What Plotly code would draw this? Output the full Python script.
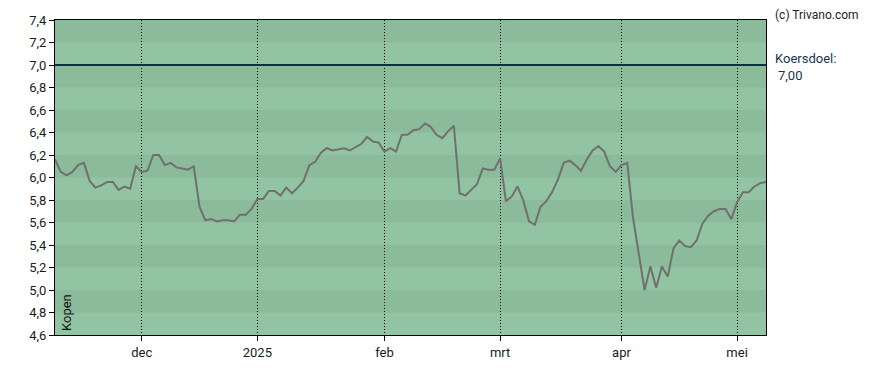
import pandas as pd
import plotly.graph_objects as go

# ---- data ----
holidays = ["2024-12-25", "2024-12-26", "2025-01-01", "2025-04-18", "2025-04-21", "2025-05-01"]
dates = [d for d in pd.bdate_range("2024-11-11", "2025-05-09") if d.strftime("%Y-%m-%d") not in holidays]

prices = [
    6.16, 6.05, 6.02, 6.05, 6.11, 6.13, 5.97, 5.91, 5.93, 5.96,
    5.96, 5.89, 5.92, 5.90, 6.10, 6.05, 6.06, 6.20, 6.20, 6.11,
    6.13, 6.09, 6.08, 6.07, 6.10, 5.74, 5.62, 5.63, 5.61, 5.62,
    5.62, 5.61, 5.67, 5.67, 5.72, 5.81, 5.81, 5.88, 5.88, 5.84,
    5.91, 5.86, 5.91, 5.97, 6.11, 6.14, 6.22, 6.26, 6.24, 6.25,
    6.26, 6.24, 6.27, 6.30, 6.36, 6.32, 6.31, 6.23, 6.26, 6.23,
    6.38, 6.38, 6.42, 6.43, 6.48, 6.45, 6.38, 6.35, 6.41, 6.46,
    5.86, 5.84, 5.89, 5.94, 6.08, 6.07, 6.07, 6.17, 5.79, 5.83,
    5.92, 5.80, 5.61, 5.58, 5.74, 5.79, 5.87, 5.98, 6.13, 6.15,
    6.11, 6.06, 6.16, 6.24, 6.28, 6.23, 6.10, 6.05, 6.11, 6.13,
    5.64, 5.31, 5.00, 5.21, 5.02, 5.21, 5.12, 5.37, 5.44, 5.39,
    5.38, 5.44, 5.59, 5.66, 5.70, 5.72, 5.72, 5.63, 5.78, 5.87,
    5.87, 5.92, 5.95, 5.96,
]
n = min(len(dates), len(prices))
dates = dates[:n]
prices = prices[:n]

target = 7.00
y_ticks = [4.6, 4.8, 5.0, 5.2, 5.4, 5.6, 5.8, 6.0, 6.2, 6.4, 6.6, 6.8, 7.0, 7.2, 7.4]
month_names = {1: "2025", 2: "feb", 3: "mrt", 4: "apr", 5: "mei", 12: "dec"}

# month tick positions = first trading day of each month (excluding the starting month)
xs = list(range(n))
tickvals, ticktext = [], []
for i in range(1, n):
    if dates[i].month != dates[i - 1].month:
        tickvals.append(i)
        ticktext.append(month_names.get(dates[i].month, dates[i].strftime("%b").lower()))

DARK = "#8BBB9B"
LIGHT = "#92C3A2"

fig = go.Figure()

fig.add_trace(go.Scatter(
    x=xs, y=prices, mode="lines",
    line=dict(color="#707070", width=2),
    hoverinfo="skip", showlegend=False,
))

shapes = []
# alternating bands
for k in range(len(y_ticks) - 1):
    lo, hi = y_ticks[k], y_ticks[k + 1]
    if k % 2 == 0:
        continue
    shapes.append(dict(type="rect", xref="paper", yref="y", x0=0, x1=1, y0=lo, y1=hi,
                       fillcolor=DARK, line=dict(width=0), layer="below"))
# target line
shapes.append(dict(type="line", xref="paper", yref="y", x0=0, x1=1, y0=target, y1=target,
                   line=dict(color="#0B2E4A", width=2), layer="above"))

font = "Roboto, Arial, sans-serif"

# page body has an 8px default margin, so the figure is sized/offset to compensate
fig.update_layout(
    width=880, height=362,
    margin=dict(l=47, r=122, t=12, b=35),
    paper_bgcolor="white",
    plot_bgcolor=LIGHT,
    separators=",.",
    shapes=shapes,
    font=dict(family=font, size=13, color="#1a1a1a"),
    xaxis=dict(
        range=[0, n - 1],
        tickmode="array", tickvals=tickvals, ticktext=ticktext,
        showgrid=True, gridcolor="black", griddash="1px,2px", gridwidth=1,
        zeroline=False, automargin=False,
        showline=True, linecolor="black", linewidth=1, mirror=True,
        ticks="outside", ticklen=5, tickcolor="black",
        tickfont=dict(size=13, family=font, color="#1a1a1a"),
        fixedrange=True,
    ),
    yaxis=dict(
        range=[4.6, 7.4],
        tickmode="array", tickvals=y_ticks,
        ticktext=[f"{v:.1f}".replace(".", ",") for v in y_ticks],
        showgrid=False, zeroline=False, automargin=False,
        showline=True, linecolor="black", linewidth=1, mirror=True,
        ticks="outside", ticklen=5, tickcolor="black",
        tickfont=dict(size=13, family=font, color="#1a1a1a"),
        fixedrange=True,
    ),
    annotations=[
        dict(text="(c) Trivano.com", xref="paper", yref="paper", x=1, y=1,
             xanchor="left", yanchor="bottom", xshift=7, yshift=-4, showarrow=False,
             font=dict(size=12, family=font, color="#222")),
        dict(text="Koersdoel:", xref="paper", yref="paper", x=1, y=1,
             xanchor="left", yanchor="middle", xshift=7, yshift=-38, showarrow=False,
             font=dict(size=13, family=font, color="#1a3550")),
        dict(text="7,00", xref="paper", yref="paper", x=1, y=1,
             xanchor="left", yanchor="middle", xshift=10, yshift=-55, showarrow=False,
             font=dict(size=13, family=font, color="#1a3550")),
        dict(text="Kopen", xref="paper", yref="paper", x=0, y=0, textangle=-90,
             xanchor="left", yanchor="bottom", xshift=2, yshift=2, showarrow=False,
             font=dict(size=13, family=font, color="#111")),
    ],
)

fig.write_html("out.html")
